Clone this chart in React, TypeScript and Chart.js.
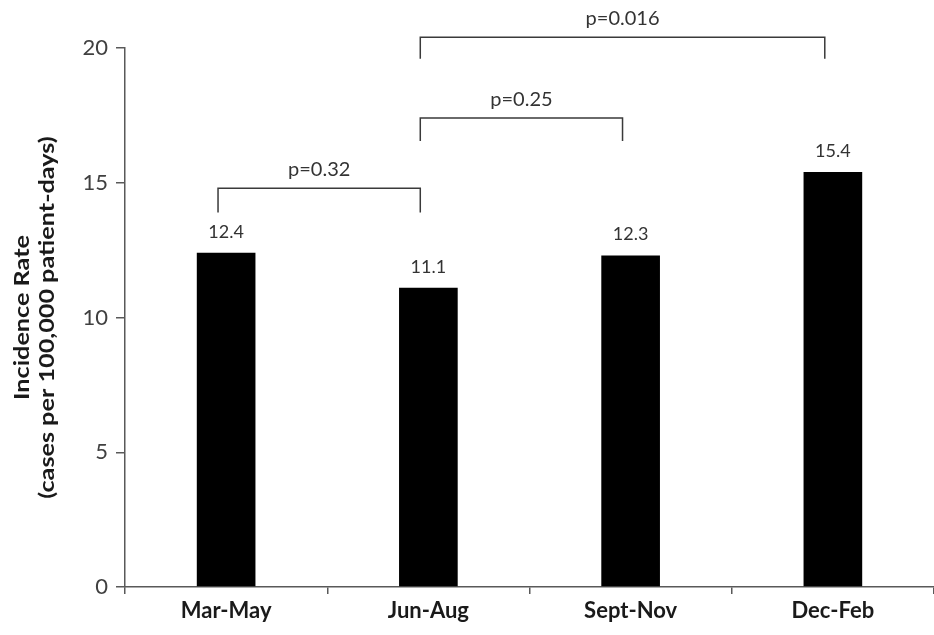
import React, { useEffect, useRef } from "react";
import { Chart, registerables } from "chart.js";

Chart.register(...registerables);

const categories = ["Mar-May", "Jun-Aug", "Sept-Nov", "Dec-Feb"];
const incidence = [12.4, 11.1, 12.3, 15.4];
const yTicks = [0, 5, 10, 15, 20];
const yTitleLines = ["Incidence Rate", "(cases per 100,000 patient-days)"];
const bracketFrom = [0, 1, 1];
const bracketTo = [1, 2, 3];
const bracketTop = [14.8, 17.4, 20.4];
const bracketLeg = [13.9, 16.55, 19.6];
const bracketLabels = ["p=0.32", "p=0.25", "p=0.016"];

const FONT = "Lato, 'Open Sans', sans-serif";

const annotations = {
  id: "annotations",
  afterDraw(chart: any) {
    const ctx = chart.ctx;
    const x = chart.scales.x;
    const y = chart.scales.y;
    const area = chart.chartArea;
    const meta = chart.getDatasetMeta(0);
    ctx.save();
    // value labels
    ctx.fillStyle = "#333333";
    ctx.font = `18px ${FONT}`;
    ctx.textAlign = "center";
    ctx.textBaseline = "middle";
    meta.data.forEach((bar: any, i: number) => {
      ctx.fillText(incidence[i].toFixed(1), bar.x, bar.y - 21);
    });
    // brackets
    ctx.strokeStyle = "#3a3a3a";
    ctx.lineWidth = 1.5;
    ctx.font = `20px ${FONT}`;
    const legShift = -0.04;
    bracketLabels.forEach((label, i) => {
      const x1 = x.getPixelForValue(bracketFrom[i] + legShift);
      const x2 = x.getPixelForValue(bracketTo[i] + legShift);
      const yt = y.getPixelForValue(bracketTop[i]);
      const yl = y.getPixelForValue(bracketLeg[i]);
      ctx.beginPath();
      ctx.moveTo(x1, yl);
      ctx.lineTo(x1, yt);
      ctx.lineTo(x2, yt);
      ctx.lineTo(x2, yl);
      ctx.stroke();
      ctx.fillText(label, (x1 + x2) / 2, yt - 19);
    });
    // y axis title (slightly stretched along its length, like the source)
    ctx.fillStyle = "#1a1a1a";
    ctx.font = `bold 21px ${FONT}`;
    ctx.textBaseline = "alphabetic";
    const cy = (area.top + area.bottom) / 2;
    const baselines = [29, 54];
    yTitleLines.forEach((line, i) => {
      ctx.save();
      ctx.translate(baselines[i], cy);
      ctx.rotate(-Math.PI / 2);
      ctx.scale(1.2, 1);
      ctx.fillText(line, 0, 0);
      ctx.restore();
    });
    ctx.restore();
  },
};

export default function App() {
  const ref = useRef<HTMLCanvasElement>(null);
  useEffect(() => {
    const chart = new Chart(ref.current!, {
      type: "bar",
      data: {
        labels: categories,
        datasets: [
          {
            data: incidence,
            backgroundColor: "#000000",
            borderWidth: 0,
            barPercentage: 0.29,
            categoryPercentage: 1,
          },
        ],
      },
      options: {
        animation: false,
        responsive: false,
        maintainAspectRatio: false,
        layout: { padding: { top: 48, right: 0, left: 0, bottom: 0 } },
        plugins: { legend: { display: false }, tooltip: { enabled: false } },
        scales: {
          x: {
            grid: {
              display: true,
              drawOnChartArea: false,
              drawTicks: true,
              tickLength: 7,
              offset: true,
              color: "#595959",
              lineWidth: 1.5,
            },
            border: { display: true, color: "#595959", width: 1.5 },
            ticks: {
              color: "#1a1a1a",
              font: { family: FONT, size: 22, weight: "bold" },
              padding: 4,
            },
            afterFit(scale: any) {
              scale.height = 48;
            },
          },
          y: {
            min: 0,
            max: 20,
            afterBuildTicks(scale: any) {
              scale.ticks = yTicks.map((v) => ({ value: v }));
            },
            grid: {
              display: true,
              drawOnChartArea: false,
              drawTicks: true,
              tickLength: 9,
              color: "#595959",
              lineWidth: 1.5,
            },
            border: { display: true, color: "#595959", width: 1.5 },
            ticks: {
              color: "#404040",
              font: { family: FONT, size: 22 },
              padding: 8,
            },
            title: { display: false },
            afterFit(scale: any) {
              scale.width = 125;
            },
          },
        },
      },
      plugins: [annotations],
    });
    return () => chart.destroy();
  }, []);
  return (
    <div style={{ position: "absolute", left: 0, top: 0, width: 934, height: 635, background: "#fff" }}>
      <canvas ref={ref} width={934} height={635} style={{ display: "block" }} />
    </div>
  );
}
